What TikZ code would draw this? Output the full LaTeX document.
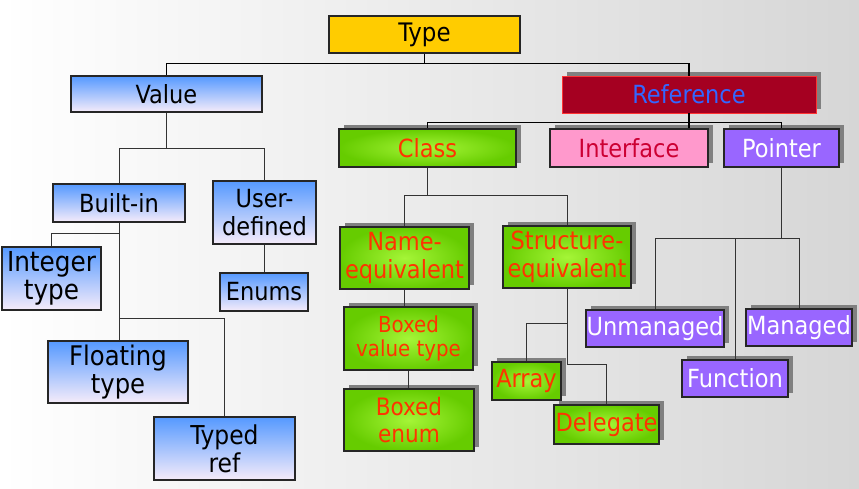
\documentclass[tikz,border=0pt]{standalone}
\usepackage{fontspec}
\usepackage{tikz}
\usetikzlibrary{shadows}
\newfontfamily\boxfont{DejaVu Sans Condensed}
\definecolor{typegold}{RGB}{255,204,0}
\definecolor{valuetop}{RGB}{85,153,255}
\definecolor{valuebottom}{RGB}{246,236,250}
\definecolor{refred}{RGB}{165,0,33}
\definecolor{reftext}{RGB}{51,102,255}
\definecolor{refborder}{RGB}{255,51,51}
\definecolor{greenedge}{RGB}{102,204,0}
\definecolor{greencore}{RGB}{165,245,55}
\definecolor{greentext}{RGB}{255,51,0}
\definecolor{ifacepink}{RGB}{255,153,204}
\definecolor{ifacetext}{RGB}{204,0,51}
\definecolor{ptrpurple}{RGB}{153,102,255}
\definecolor{shadowgrey}{RGB}{128,128,128}
\definecolor{bgright}{RGB}{214,214,214}

\begin{document}
\begin{tikzpicture}[x=1pt,y=-1pt,
  every node/.style={font=\boxfont\fontsize{25}{27.5}\selectfont,align=center,inner sep=0pt},
  box/.style={draw=black!85,line width=1.1pt},
  shadowed/.style={drop shadow={shadow xshift=5pt,shadow yshift=4pt,fill=shadowgrey,opacity=1}},
  bluebox/.style={box,top color=valuetop,bottom color=valuebottom},
  greenbox/.style={box,shadowed,inner color=greencore,outer color=greenedge,text=greentext},
  purplebox/.style={box,shadowed,fill=ptrpurple,text=white},
  link/.style={draw=black!80,line width=0.9pt},
  toplink/.style={draw=black,line width=1.8pt}]
  \useasboundingbox (0,0) rectangle (859,489);
  \shade[left color=white,right color=bgright] (0,0) rectangle (859,489);

  % root and first level
  \node[box,fill=typegold,minimum width=191pt,minimum height=37pt,font=\boxfont\fontsize{25.5}{28}\selectfont] (type) at (424.5,34.5) {Type};
  \node[bluebox,minimum width=191pt,minimum height=36pt] (value) at (166.5,94) {Value};
  \node[draw=refborder,line width=0.8pt,fill=refred,shadowed,text=reftext,minimum width=254pt,minimum height=37pt] (reference) at (689,94.5) {Reference};

  % value types
  \node[bluebox,minimum width=132pt,minimum height=38pt] (builtin) at (119,203) {Built-in};
  \node[bluebox,minimum width=103pt,minimum height=63pt] (userdef) at (264.5,212.5) {User-\\defined};
  \node[bluebox,minimum width=99pt,minimum height=63pt,font=\boxfont\fontsize{27.5}{28}\selectfont] (integer) at (51.5,278.5) {Integer\\type};
  \node[bluebox,minimum width=88pt,minimum height=38pt] (enums) at (264,292) {Enums};
  \node[bluebox,minimum width=140pt,minimum height=62pt,font=\boxfont\fontsize{27}{28}\selectfont] (floating) at (118,372) {Floating\\type};
  \node[bluebox,minimum width=141pt,minimum height=63pt,font=\boxfont\fontsize{26}{28}\selectfont] (typed) at (224.5,448.5) {Typed\\ref};

  % reference types
  \node[greenbox,minimum width=177pt,minimum height=38pt] (class) at (427.5,148) {Class};
  \node[box,shadowed,fill=ifacepink,text=ifacetext,minimum width=158pt,minimum height=38pt] (interface) at (629,148) {Interface};
  \node[purplebox,minimum width=115pt,minimum height=38pt] (pointer) at (781.5,148) {Pointer};

  \node[greenbox,minimum width=129pt,minimum height=62pt] (name) at (404.5,258) {Name-\\equivalent};
  \node[greenbox,minimum width=128pt,minimum height=62pt] (structure) at (567,257) {Structure-\\equivalent};
  \node[greenbox,minimum width=129pt,minimum height=63pt,font=\boxfont\fontsize{22}{23.5}\selectfont] (boxedval) at (408.5,338.5) {Boxed\\value type};
  \node[greenbox,minimum width=130pt,minimum height=62pt,font=\boxfont\fontsize{24}{26.5}\selectfont] (boxedenum) at (409,420) {Boxed\\enum};
  \node[greenbox,minimum width=69pt,minimum height=38pt] (array) at (526.5,381) {Array};
  \node[greenbox,minimum width=105pt,minimum height=39pt] (delegate) at (606.5,424.5) {Delegate};

  \node[purplebox,minimum width=138pt,minimum height=37pt] (unmanaged) at (655,328.5) {Unmanaged};
  \node[purplebox,minimum width=106pt,minimum height=37pt] (managed) at (799,327.5) {Managed};
  \node[purplebox,minimum width=106pt,minimum height=37pt] (function) at (735,378.5) {Function};

  % connectors
  \draw[toplink] (type.south) -- ++(0,10) -| (value.north);
  \draw[toplink] (type.south) -- ++(0,10) -| (reference.north);
  \draw[link,black,line width=1.2pt] (reference.south) -- ++(0,9) -| (class.north);
  \draw[link,black,line width=1.2pt] (reference.south) -- ++(0,9) -| (pointer.north);
  \draw[link,black,line width=1.2pt] (reference.south) -- (reference.south |- interface.north);

  \draw[link] (value.south) -- ++(0,36) -| (builtin.north);
  \draw[link] (value.south) -- ++(0,36) -| (userdef.north);
  \draw[link] (userdef.south) -- (userdef.south |- enums.north);
  \draw[link] (builtin.south) -- ++(0,11) -| (integer.north);
  \draw[link] (builtin.south) -- (builtin.south |- floating.north);
  \draw[link] (builtin.south) -- ++(0,96) -| (typed.north);

  \draw[link] (class.south) -- ++(0,28) -| (name.north);
  \draw[link] (class.south) -- ++(0,28) -| (structure.north);
  \draw[link] (name.south) -- (name.south |- boxedval.north);
  \draw[link] (boxedval.south) -- (boxedval.south |- boxedenum.north);
  \draw[link] (structure.south) -- ++(0,35) -| (array.north);
  \draw[link] (structure.south) -- ++(0,76) -| (delegate.north);

  \draw[link] (pointer.south) -- ++(0,71) -| (unmanaged.north);
  \draw[link] (pointer.south) -- ++(0,71) -| (function.north);
  \draw[link] (pointer.south) -- ++(0,71) -| (managed.north);
\end{tikzpicture}
\end{document}
